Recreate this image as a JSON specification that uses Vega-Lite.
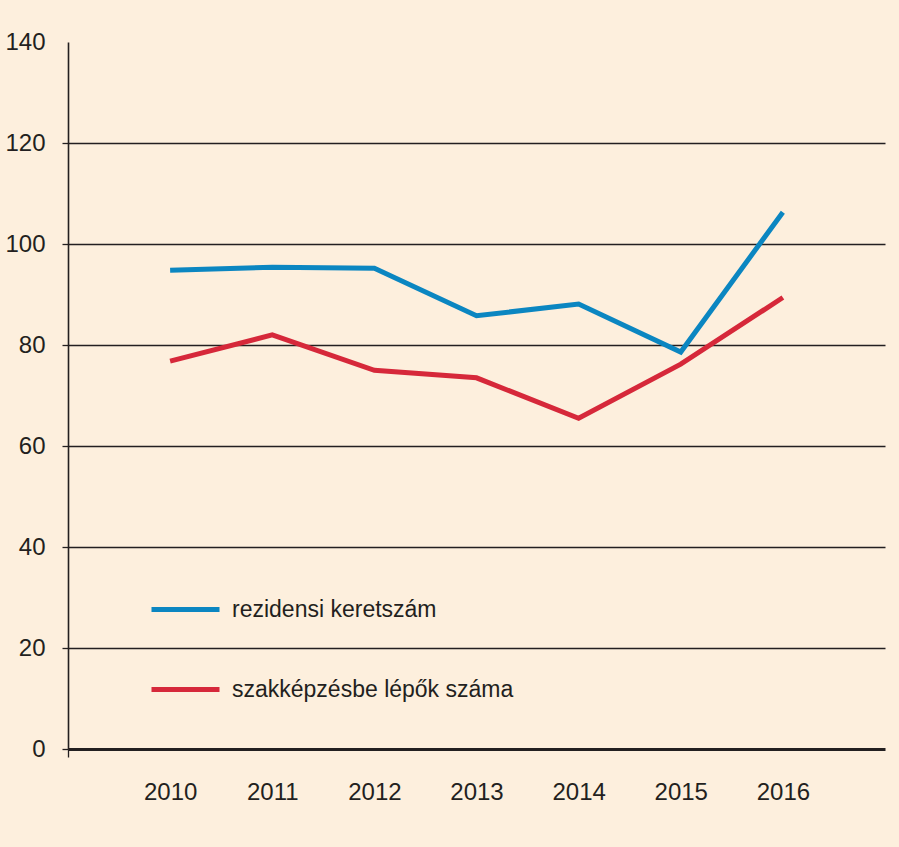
{
  "$schema": "https://vega.github.io/schema/vega-lite/v6.json",
  "width": 817,
  "height": 707,
  "autosize": {"type": "none"},
  "padding": {"left": 68, "top": 42, "right": 14, "bottom": 98},
  "background": "#fdefdd",
  "config": {
    "view": {"stroke": null},
    "font": "Liberation Sans, Arial, sans-serif"
  },
  "data": {
    "values": [
      {"year": 2010, "series": "rezidensi keretszám", "value": 94.8},
      {"year": 2011, "series": "rezidensi keretszám", "value": 95.4},
      {"year": 2012, "series": "rezidensi keretszám", "value": 95.2},
      {"year": 2013, "series": "rezidensi keretszám", "value": 85.8},
      {"year": 2014, "series": "rezidensi keretszám", "value": 88.1},
      {"year": 2015, "series": "rezidensi keretszám", "value": 78.6},
      {"year": 2016, "series": "rezidensi keretszám", "value": 106.3},
      {"year": 2010, "series": "szakképzésbe lépők száma", "value": 76.8},
      {"year": 2011, "series": "szakképzésbe lépők száma", "value": 82.0},
      {"year": 2012, "series": "szakképzésbe lépők száma", "value": 75.0},
      {"year": 2013, "series": "szakképzésbe lépők száma", "value": 73.5},
      {"year": 2014, "series": "szakképzésbe lépők száma", "value": 65.5},
      {"year": 2015, "series": "szakképzésbe lépők száma", "value": 76.2},
      {"year": 2016, "series": "szakképzésbe lépők száma", "value": 89.4}
    ]
  },
  "mark": {"type": "line", "strokeWidth": 5},
  "encoding": {
    "x": {
      "field": "year",
      "type": "quantitative",
      "scale": {"domain": [2009, 2017], "nice": false, "zero": false},
      "axis": {
        "title": null,
        "grid": false,
        "values": [2009, 2009.5, 2010, 2010.5, 2011, 2011.5, 2012, 2012.5, 2013, 2013.5, 2014, 2014.5, 2015, 2015.5, 2016, 2016.5],
        "format": "d",
        "labelExpr": "datum.value >= 2010 && datum.value % 1 == 0 ? datum.label : ''",
        "labelOverlap": false,
        "labelFlush": false,
        "labelFontSize": 24,
        "labelColor": "#231f20",
        "labelPadding": 23,
        "tickSize": 8,
        "tickWidth": 1.3,
        "tickColor": "#231f20",
        "tickOpacity": {"condition": {"test": "datum.value >= 2010 && datum.value % 1 == 0", "value": 0}, "value": 1},
        "domainColor": "#231f20",
        "domainWidth": 3
      }
    },
    "y": {
      "field": "value",
      "type": "quantitative",
      "scale": {"domain": [0, 140], "nice": false},
      "axis": {
        "title": null,
        "values": [0, 20, 40, 60, 80, 100, 120, 140],
        "grid": true,
        "gridColor": "#231f20",
        "gridWidth": 1.3,
        "gridOpacity": {"condition": {"test": "datum.value > 0 && datum.value < 140", "value": 1}, "value": 0},
        "tickSize": 6,
        "tickWidth": 1.3,
        "tickColor": "#231f20",
        "tickOpacity": {"condition": {"test": "datum.value >= 140", "value": 0}, "value": 1},
        "domainColor": "#231f20",
        "domainWidth": 1.6,
        "labelFontSize": 24,
        "labelColor": "#231f20",
        "labelPadding": 17
      }
    },
    "color": {
      "field": "series",
      "type": "nominal",
      "scale": {
        "domain": ["rezidensi keretszám", "szakképzésbe lépők száma"],
        "range": ["#0b86c1", "#d6283a"]
      },
      "legend": {
        "title": null,
        "orient": "none",
        "legendX": 81,
        "legendY": 531,
        "symbolType": "stroke",
        "symbolSize": 4624,
        "symbolStrokeWidth": 5,
        "labelFontSize": 23,
        "labelColor": "#231f20",
        "labelOffset": 10,
        "labelLimit": 500,
        "rowPadding": 31,
        "padding": 0
      }
    }
  }
}
